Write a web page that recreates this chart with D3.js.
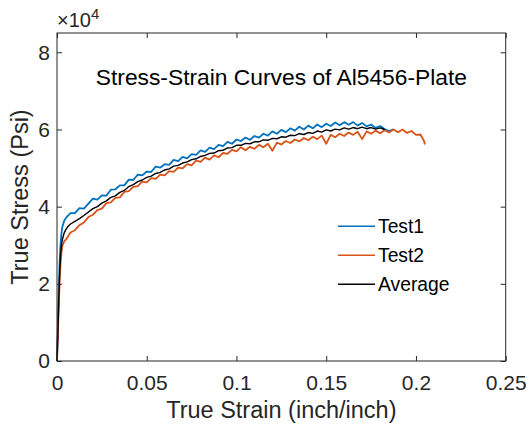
<!DOCTYPE html>
<html><head><meta charset="utf-8">
<script src="https://cdn.jsdelivr.net/npm/d3@7"></script>
<style>
body{margin:0;background:#fff}
svg text{font-family:"Liberation Sans",Arial,Helvetica,sans-serif;fill:#262626}
</style>
</head><body>
<svg id="c" width="530" height="427"></svg>
<script>
// ---- data (true strain in inch/inch, true stress in psi) ----
const strain = [0,0.0005,0.001,0.0015,0.002,0.0025,0.003,0.004,0.005,0.006,
0.0075,0.01,0.0125,0.015,0.0175,0.02,0.0225,0.025,0.0275,0.03,
0.0325,0.035,0.0375,0.04,0.0425,0.045,0.0475,0.05,0.0525,0.055,
0.0575,0.06,0.0625,0.065,0.0675,0.07,0.0725,0.075,0.0775,0.08,
0.0825,0.085,0.0875,0.09,0.0925,0.095,0.0975,0.1,0.1025,0.105,
0.1075,0.11,0.1125,0.115,0.1175,0.12,0.1225,0.125,0.1275,0.13,
0.1325,0.135,0.1375,0.14,0.1425,0.145,0.1475,0.15,0.1525,0.155,
0.1575,0.16,0.1625,0.165,0.1675,0.17,0.1725,0.175,0.1775,0.18,
0.1825,0.185,0.1875,0.19,0.1925,0.195,0.1975,0.2,0.2025,0.2045,0.205];

const test1 = [0,9000,18500,26000,30500,33200,34800,36300,37100,37600,
38300,38300,39600,39500,40800,42100,41800,42900,42850,44400,
44500,45500,45500,47000,46900,48300,48100,49100,49000,50400,
50100,51000,50800,52100,51800,52900,52500,53600,53400,54600,
54200,55300,54900,56000,55700,56800,56300,57400,57000,57900,
57300,58300,57900,58900,58400,59500,58900,59900,59300,60300,
59700,60700,60000,61000,60300,61300,60600,61500,60900,61800,
61100,61900,61200,61900,61000,61700,60800,61300,60400,60900,
60100,59600,60000];

const test2 = [0,7000,14500,21000,25500,28300,29800,31000,31500,32200,
33300,33900,35200,35900,37300,37900,39100,39500,40900,41100,
42300,42400,43800,44000,45100,45300,46500,46300,47400,47200,
48300,48100,49200,49000,50100,49900,51000,50700,51900,51600,
52700,52200,53300,52800,53900,53700,54700,54300,55400,54600,
55500,55000,56000,55400,56300,54500,56600,56100,57000,56500,
57400,56900,57800,57200,58100,57500,58400,56300,58600,58000,
58900,58300,59200,58600,59400,57500,59500,58900,59700,59000,
59800,59200,60000,59300,60000,59100,59600,58600,58700,57000,56100];

const average = [0,7500,16000,23000,27500,30000,31500,33200,34100,34800,
35500,36200,36900,37700,38600,39500,40000,40900,41500,42400,
42800,43700,44200,45200,45700,46500,46900,47600,47900,48600,
48900,49500,49800,50500,50700,51300,51600,52200,52400,53000,
53300,53800,53900,54500,54600,55200,55300,55900,55900,56400,
56300,56800,56800,57300,57200,57700,57600,58100,58000,58500,
58400,58900,58700,59200,59000,59600,59300,59900,59600,60100,
59900,60400,60100,60500,60200,60600,60200,60500,60100,60400,
60000];

const seriesNames = ["Test1","Test2","Average"];
const seriesColors = ["#0072BD","#D95319","#000000"];
const xTicks = [0,0.05,0.1,0.15,0.2,0.25];
const xTickLabels = ["0","0.05","0.1","0.15","0.2","0.25"];
const yTicks = [0,20000,40000,60000,80000];
const yTickLabels = ["0","2","4","6","8"];
const titleText = "Stress-Strain Curves of Al5456-Plate";
const xLabel = "True Strain (inch/inch)";
const yLabel = "True Stress (Psi)";

// ---- drawing ----
const svg = d3.select("#c");
svg.append("rect").attr("width",530).attr("height",427).attr("fill","#fff");
const L=57, R=505.7, T=33, B=361;
const x = d3.scaleLinear().domain([0,0.25]).range([L,R]);
const y = d3.scaleLinear().domain([0,85000]).range([B,T]);
const axisColor = "#262626";
const tickFont = 21;

// curves
const series = [test1,test2,average];
const widths = [1.8,1.8,1.4];
const line = d3.line().x(d=>x(d[0])).y(d=>y(d[1]));
series.forEach((vals,i)=>{
  const pts = vals.map((v,j)=>[strain[j],v]);
  svg.append("path").datum(pts).attr("d",line)
    .attr("fill","none").attr("stroke",seriesColors[i])
    .attr("stroke-width",widths[i]).attr("stroke-linejoin","round");
});

function styleAxis(g){
  g.select(".domain").remove();
  g.selectAll(".tick line").attr("stroke",axisColor).attr("stroke-width",1);
  g.selectAll(".tick text").attr("fill",axisColor).style("font-size",tickFont+"px")
   .attr("font-family",null);
}
const gb = svg.append("g").attr("transform",`translate(0,${B})`)
  .call(d3.axisBottom(x).tickValues(xTicks).tickFormat((d,i)=>xTickLabels[i]).tickSize(-5).tickPadding(14));
styleAxis(gb);
const gt = svg.append("g").attr("transform",`translate(0,${T})`)
  .call(d3.axisTop(x).tickValues(xTicks).tickFormat("").tickSize(-5));
styleAxis(gt);
const gl = svg.append("g").attr("transform",`translate(${L},0)`)
  .call(d3.axisLeft(y).tickValues(yTicks).tickFormat((d,i)=>yTickLabels[i]).tickSize(-5).tickPadding(7));
styleAxis(gl);
const gr = svg.append("g").attr("transform",`translate(${R},0)`)
  .call(d3.axisRight(y).tickValues(yTicks).tickFormat("").tickSize(-5));
styleAxis(gr);

// box
svg.append("rect").attr("x",L).attr("y",T).attr("width",R-L).attr("height",B-T)
  .attr("fill","none").attr("stroke",axisColor).attr("stroke-width",1);

// exponent
const ex = svg.append("text").attr("x",57).attr("y",27).style("font-size","20px");
ex.append("tspan").text("\u00d710");
ex.append("tspan").attr("dy",-8).style("font-size","15px").text("4");

// title (text annotation)
svg.append("text").attr("x",281.4).attr("y",85).attr("text-anchor","middle")
  .style("font-size","22.8px").style("fill","#000").text(titleText);

// axis labels
svg.append("text").attr("x",(L+R)/2).attr("y",418).attr("text-anchor","middle")
  .style("font-size","23.5px").text(xLabel);
svg.append("text").attr("transform","translate(28,197) rotate(-90)").attr("text-anchor","middle")
  .style("font-size","23.5px").text(yLabel);

// legend
seriesNames.forEach((n,i)=>{
  const yy = 226.3 + 29*i;
  svg.append("line").attr("x1",338).attr("x2",375).attr("y1",yy).attr("y2",yy)
    .attr("stroke",seriesColors[i]).attr("stroke-width",1.5);
  svg.append("text").attr("x",378).attr("y",yy).attr("dy","0.35em")
    .style("font-size","19.3px").style("fill","#000").text(n);
});
</script>
</body></html>
